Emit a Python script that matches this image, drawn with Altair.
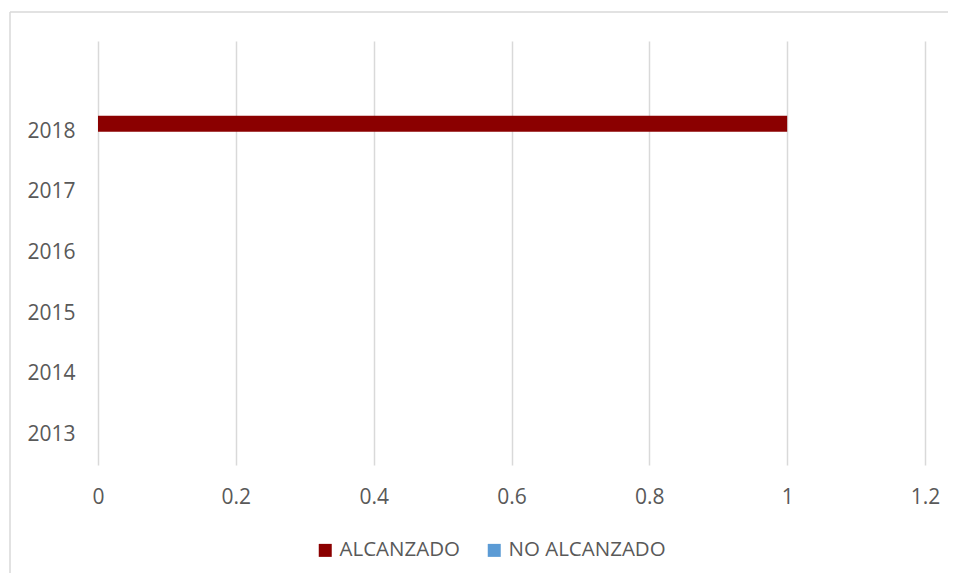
import altair as alt
import pandas as pd

years = ["2013", "2014", "2015", "2016", "2017", "2018"]
alcanzado = [0, 0, 0, 0, 0, 1]
no_alcanzado = [0, 0, 0, 0, 0, 0]
series = ["ALCANZADO", "NO ALCANZADO"]
colors = ["#8B0000", "#5B9BD5"]
x_ticks = [0, 0.2, 0.4, 0.6, 0.8, 1, 1.2]
# Excel left an empty category row at the top of the axis
y_domain = [""] + years[::-1]

rows = []
for i, yr in enumerate(years):
    rows.append({"year": yr, "serie": series[0], "value": alcanzado[i]})
    rows.append({"year": yr, "serie": series[1], "value": no_alcanzado[i]})
df = pd.DataFrame(rows)

FONT = "Open Sans"
GRAY = "#595959"

bars = alt.Chart(df).mark_bar().encode(
    x=alt.X("value:Q",
            scale=alt.Scale(domain=[0, 1.2], nice=False, zero=True),
            axis=alt.Axis(values=x_ticks, format="~g", title=None, domain=False,
                          ticks=False, grid=True, gridColor="#d9d9d9", gridWidth=1.5,
                          labelFont=FONT, labelFontSize=21, labelColor=GRAY,
                          labelPadding=21, labelFlush=False, labelOverlap=False)),
    y=alt.Y("year:N",
            scale=alt.Scale(domain=y_domain, paddingInner=0.47, paddingOuter=0.235),
            axis=alt.Axis(title=None, domain=False, ticks=False, grid=False,
                          labelFont=FONT, labelFontSize=21, labelColor=GRAY,
                          labelPadding=23)),
    yOffset=alt.YOffset("serie:N", scale=alt.Scale(domain=series, paddingInner=0, paddingOuter=0)),
    color=alt.Color("serie:N",
                    scale=alt.Scale(domain=series, range=colors),
                    legend=alt.Legend(title=None, orient="none", direction="horizontal",
                                      legendX=217, legendY=499,
                                      symbolType="square", symbolSize=169,
                                      symbolStrokeWidth=0, labelFont=FONT,
                                      labelFontSize=20.5, labelColor=GRAY,
                                      labelOffset=4, columnPadding=24, padding=0)),
)

frame_data = alt.Data(values=[{"k": 1}])
left_line = alt.Chart(frame_data).mark_rule(color="#d9d9d9", strokeWidth=1.5).encode(
    x=alt.value(-88), y=alt.value(-29), y2=alt.value(700))
top_line = alt.Chart(frame_data).mark_rule(color="#d9d9d9", strokeWidth=1.5).encode(
    x=alt.value(-88), x2=alt.value(1000), y=alt.value(-29))

chart = alt.layer(bars, left_line, top_line).properties(
    width=827, height=424,
    autosize=alt.AutoSizeParams(type="none"),
    padding={"left": 90, "top": 33, "right": 23, "bottom": 108},
    background="white",
).configure_view(stroke=None)

chart.save("out.html", embed_options={"renderer": "svg", "actions": False})
